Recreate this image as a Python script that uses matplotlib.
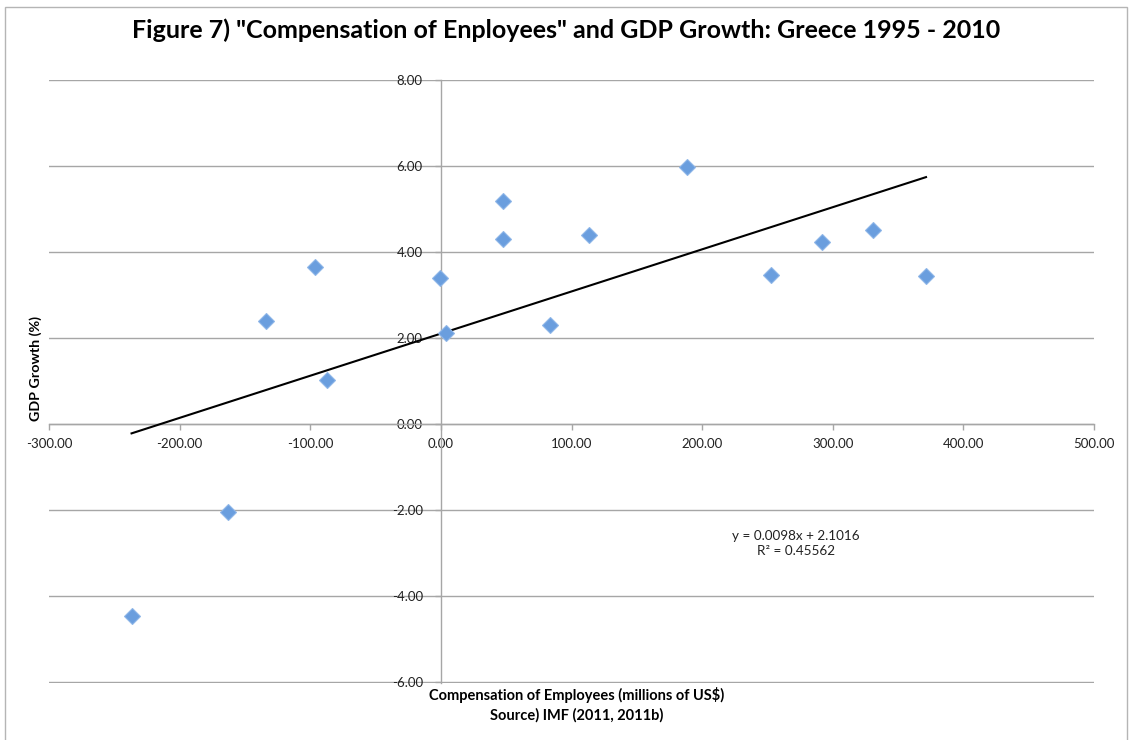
import matplotlib
matplotlib.use("Agg")
import matplotlib.pyplot as plt
from matplotlib.patches import Rectangle
from matplotlib.ticker import FuncFormatter, MultipleLocator
import numpy as np

plt.rcParams['font.family'] = ['Lato', 'DejaVu Sans']

# Compensation of employees (change, millions of US$) vs GDP growth (%), 1995-2010
comp_employees = [-236.8, -163.3, -134.0, -96.0, -87.5, -0.8, 3.6, 47.2,
                  47.2, 83.5, 113.1, 188.6, 252.7, 292.0, 331.0, 371.4]
gdp_growth = [-4.47, -2.05, 2.40, 3.64, 1.02, 3.39, 2.11, 5.19,
              4.30, 2.29, 4.40, 5.98, 3.47, 4.23, 4.51, 3.44]

# Linear trend as reported on the chart
slope = 0.0098
intercept = 2.1016
r_squared = 0.45562

W, H = 1132, 740
fig = plt.figure(figsize=(W / 100, H / 100), dpi=100)

# Outer chart frame
fig.patches.append(Rectangle((5 / W, -0.02), (1127 - 5) / W, 1 - 7 / H + 0.02,
                             transform=fig.transFigure, fill=False,
                             edgecolor='#b5b5b5', linewidth=1.0))

ax = fig.add_axes([49 / W, (H - 683) / H, (1094 - 49) / W, (683 - 80) / H])
ax.set_xlim(-300, 500)
ax.set_ylim(-6.025, 8)

grid_c = '#a6a6a6'
ax.xaxis.set_major_locator(MultipleLocator(100))
ax.yaxis.set_major_locator(MultipleLocator(2))
fmt = FuncFormatter(lambda v, p: f"{v:.2f}")
ax.xaxis.set_major_formatter(fmt)
ax.yaxis.set_major_formatter(fmt)

ax.grid(axis='y', color=grid_c, linewidth=1.0)
ax.grid(axis='x', visible=False)
ax.set_axisbelow(True)
for gl in ax.get_ygridlines():
    gl.set_clip_on(False)

for s in ('top', 'right'):
    ax.spines[s].set_visible(False)
ax.spines['left'].set_position(('data', 0))
ax.spines['bottom'].set_position(('data', 0))
for s in ('left', 'bottom'):
    ax.spines[s].set_color(grid_c)
    ax.spines[s].set_linewidth(1.0)

ax.tick_params(axis='x', direction='out', length=4, width=1, color=grid_c,
               pad=6, labelsize=9.5, labelcolor='#222222')
ax.tick_params(axis='y', direction='out', length=4, width=1, color=grid_c,
               pad=9, labelsize=9.5, labelcolor='#222222')

# Scatter points
ax.plot(comp_employees, gdp_growth, linestyle='none', marker='D',
        markersize=8.5, markerfacecolor='#6a9ede', markeredgecolor='#8fb6e8',
        markeredgewidth=0.8, zorder=4)

# Trend line over the data range
xs = np.array([min(comp_employees), max(comp_employees)])
ax.plot(xs, slope * xs + intercept, color='black', linewidth=1.5, zorder=3)

ax.text(272, -2.77, f"y = {slope}x + {intercept}\nR² = {r_squared}",
        ha='center', va='center', fontsize=9.7, color='#222222', linespacing=1.3)

fig.text(566 / W, 1 - 30 / H,
         'Figure 7) "Compensation of Enployees" and GDP Growth: Greece 1995 - 2010',
         ha='center', va='center', fontsize=18, fontweight='bold', color='black')

fig.text(36 / W, 1 - 421 / H, 'GDP Growth (%)', rotation=90, ha='center',
         va='bottom', fontsize=10.3, fontweight='bold', color='black')

fig.text(577 / W, 1 - 695 / H, 'Compensation of Employees (millions of US$)',
         ha='center', va='center', fontsize=10.5, fontweight='bold', color='black')
fig.text(577 / W, 1 - 715 / H, 'Source) IMF (2011, 2011b)',
         ha='center', va='center', fontsize=10.5, fontweight='bold', color='black')

fig.savefig('out.png', dpi=100, facecolor='white')
